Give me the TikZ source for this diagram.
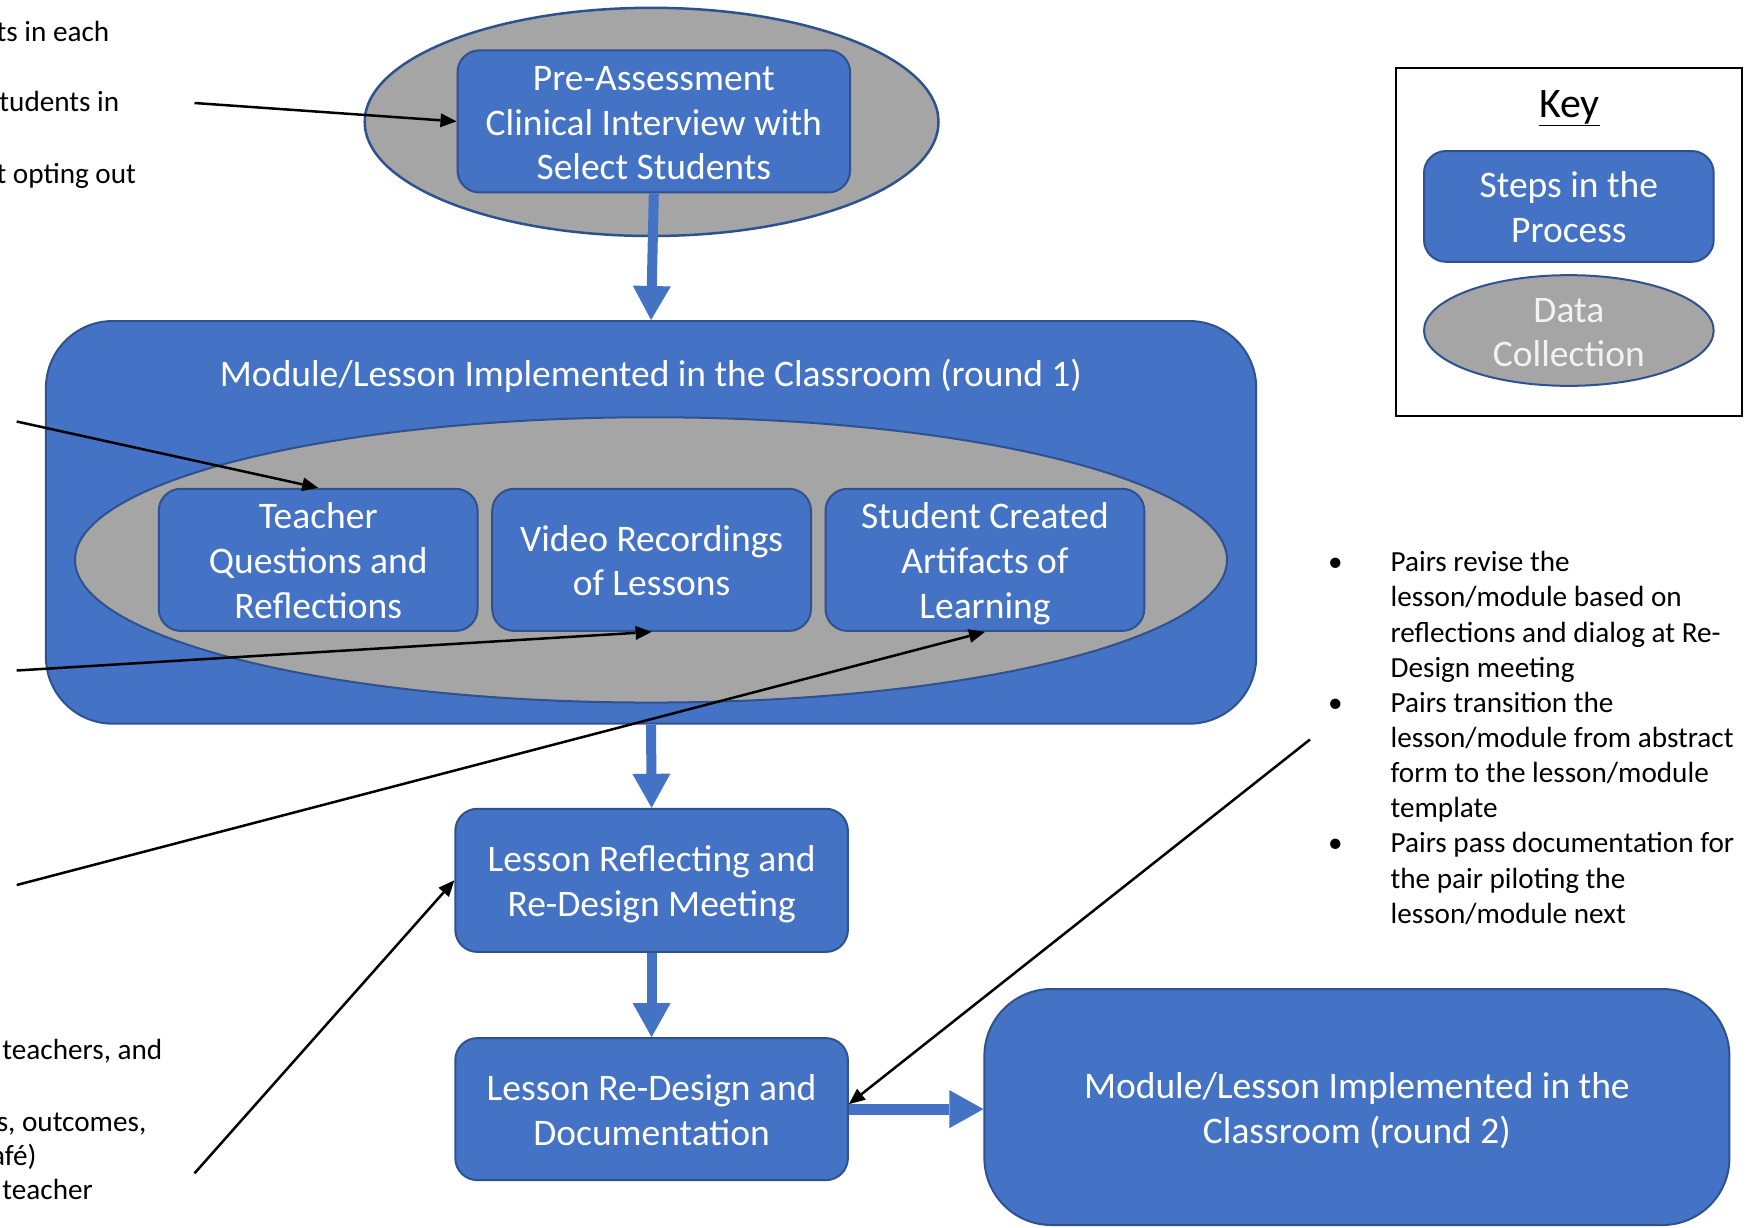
\documentclass[tikz,border=0pt]{standalone}
\usepackage{fontspec}
\setmainfont{Carlito}
\usetikzlibrary{shapes.geometric,arrows.meta}
\definecolor{boxblue}{HTML}{4472C4}
\definecolor{edgeblue}{HTML}{2F528F}
\definecolor{datagray}{HTML}{A5A5A5}
\definecolor{keytext}{HTML}{F2F2F2}
\newcommand\myboxfont{\fontsize{37.5}{44.7}\selectfont}
\newcommand\mynotefont{\fontsize{29.2}{35.16}\selectfont}
\newcommand\mytopstrut{\rule{0pt}{38pt}}
\newcommand\mybotstrut{\rule[-10.5pt]{0pt}{10.5pt}}
\newcommand\mylower[1]{\raisebox{-2pt}[\height][\depth]{#1}}
\tikzset{
  stepbox/.style={draw=edgeblue, fill=boxblue, line width=2pt, rounded corners=22pt,
    text=white, align=center, inner sep=0pt, font=\myboxfont},
  bigbox/.style={stepbox, rounded corners=67pt},
  dataell/.style={ellipse, draw=edgeblue, fill=datagray, line width=2pt, inner sep=0pt},
  flowarrow/.style={draw=boxblue, line width=10pt, -{Triangle[length=34pt,width=38pt,line width=0pt]}},
  notearrow/.style={draw=black, line width=2.5pt, -{Triangle[length=16pt,width=14pt,line width=0pt]}},
  note/.style={text=black, inner sep=0pt, font=\mynotefont},
}
\begin{document}
\begin{tikzpicture}[x=1pt,y=-1pt]
\clip (0,0) rectangle (1754,1227);
\fill[white] (0,0) rectangle (1754,1227);

% top: pre-assessment
\node[dataell, line width=2.5pt, minimum width=573.8pt, minimum height=228.2pt] (preell) at (651.6,121.9) {};
\node[stepbox, minimum width=392.6pt, minimum height=142.1pt] (pre) at (653.8,121.4)
  {\mytopstrut Pre-Assessment\\Clinical Interview with\\Select Students\mybotstrut};

% module round 1
\node[bigbox, minimum width=1210.3pt, minimum height=402.7pt] (mod1) at (651.05,522.35) {};
\node[text=white, font=\myboxfont, inner sep=0pt] (mod1title) at (651,375.8)
  {Module/Lesson Implemented in the Classroom (round 1)};
\node[dataell, minimum width=1152pt, minimum height=285.3pt] (innerell) at (651,559.9) {};
\node[stepbox, minimum width=318.8pt, minimum height=142.1pt] (teacher) at (318.2,559.85)
  {\mytopstrut Teacher\\Questions and\\Reflections\mybotstrut};
\node[stepbox, minimum width=318.8pt, minimum height=142.1pt] (video) at (651.6,559.85)
  {\mytopstrut Video Recordings\\of Lessons\mybotstrut};
\node[stepbox, minimum width=318.8pt, minimum height=142.1pt] (student) at (984.9,559.85)
  {\mytopstrut Student Created\\Artifacts of\\Learning\mybotstrut};

% lower steps
\node[stepbox, minimum width=392.6pt, minimum height=143.1pt] (refl) at (651.6,880.35)
  {\mytopstrut Lesson Reflecting and\\Re-Design Meeting\mybotstrut};
\node[stepbox, minimum width=392.6pt, minimum height=142pt] (redesign) at (651.6,1109.1)
  {\mytopstrut Lesson Re-Design and\\Documentation\mybotstrut};
\node[bigbox, minimum width=745pt, minimum height=236pt] (round2) at (1356.9,1107)
  {\mytopstrut Module/Lesson Implemented in the\\Classroom (round 2)\mybotstrut};

% key
\node[draw=black, line width=2pt, minimum width=345.7pt, minimum height=347.9pt, inner sep=0pt] (keybox) at (1568.85,242.15) {};
\node[font=\fontsize{42}{50}\selectfont, inner sep=0pt] (keytitle) at (1569.4,108.2) {\underline{Key}};
\node[stepbox, minimum width=289.7pt, minimum height=110.8pt] (keystep) at (1568.85,206.4)
  {\mytopstrut Steps in the\\Process\mybotstrut};
\node[dataell, minimum width=289.7pt, minimum height=110.7pt, text=keytext, align=center,
  font=\myboxfont] (keydata) at (1568.85,330.5) {\mylower{Data}\\\mylower{Collection}};

% left cut-off notes
\node[note, anchor=base east] (l1) at (109.5,41.7) {ts in each};
\node[note, anchor=base east] (l2) at (119.5,111.7) {tudents in};
\node[note, anchor=base east] (l3) at (136.2,183) {t opting out};
\node[note, anchor=base east] (l4) at (162.5,1059.3) {teachers, and};
\node[note, anchor=base east] (l5) at (146.5,1131.7) {s, outcomes,};
\node[note, anchor=base east] (l6) at (36.7,1165) {afé)};
\node[note, anchor=base east] (l7) at (93,1199.3) {teacher};

% right bullet notes
\node[note, anchor=base west] (bullets) at (1330,571.7) {\begin{tabular}[t]{@{}p{60.4pt}@{}l@{}}
\hspace*{-2pt}\textbullet & Pairs revise the\\
 & lesson/module based on\\
 & reflections and dialog at Re-\\
 & Design meeting\\
\hspace*{-2pt}\textbullet & Pairs transition the\\
 & lesson/module from abstract\\
 & form to the lesson/module\\
 & template\\
\hspace*{-2pt}\textbullet & Pairs pass documentation for\\
 & the pair piloting the\\
 & lesson/module next
\end{tabular}};

% flow arrows
\draw[flowarrow] (pre.south) -- (mod1.north);
\draw[flowarrow] (mod1.south) -- (refl.north);
\draw[flowarrow] (refl.south) -- (redesign.north);
\draw[flowarrow, line width=11pt] (redesign.east) -- (redesign.east -| round2.west);

% note arrows
\coordinate (s1) at (194.5,103);
\coordinate (s2) at (16.7,421.5);
\coordinate (s3) at (16.7,670.5);
\coordinate (s4) at (16.7,885);
\coordinate (s5) at (194.5,1173.3);
\coordinate (s6) at (1310,739.5);
\draw[notearrow] (s1) -- (pre.west);
\draw[notearrow] (s2) -- (teacher.north);
\draw[notearrow] (s3) -- (video.south);
\draw[notearrow] (s4) -- (student.south);
\draw[notearrow] (s5) -- (refl.west);
\draw[notearrow] (s6) -- ([yshift=5pt]redesign.east);
\end{tikzpicture}
\end{document}
